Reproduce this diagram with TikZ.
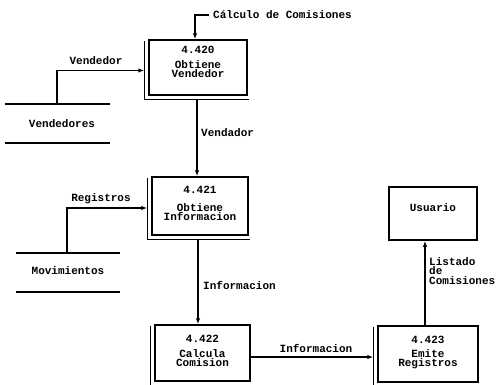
\documentclass[tikz,border=0pt]{standalone}
\usepackage{fontspec}
\newfontfamily\dfont{Liberation Mono}
\usetikzlibrary{arrows.meta,calc}
\begin{document}
\begin{tikzpicture}[x=1pt,y=-1pt,
  proc/.style={draw, line width=1.5pt, minimum width=#1, inner sep=0pt, rectangle},
  lbl/.style={font=\dfont\bfseries\fontsize{11}{9.5}\selectfont, inner sep=0pt, align=center},
  arr/.style={line width=1.1pt, -{Latex[length=6pt,width=4.5pt]}},
  bar/.style={line width=2.8pt},
  ln/.style={line width=1.1pt}]
\useasboundingbox (0,0) rectangle (499,384);
% process boxes (inner rectangles)
\node[proc=98pt, minimum height=55pt] (b420) at (198,67.5) {};
\node[proc=96pt, minimum height=58pt] (b421) at (200,206) {};
\node[proc=95pt, minimum height=56pt] (b422) at (202.5,353) {};
\node[proc=100pt, minimum height=56pt] (b423) at (428,354) {};
\node[proc=88pt, minimum height=53pt, line width=1.8pt] (usu) at (433,213.5) {};
% double lines left and bottom
\foreach \b in {b420,b421,b422,b423}{
  \draw[line width=1.2pt] ([xshift=-3.5pt,yshift=-2pt]\b.north west) -- ([xshift=-3.5pt,yshift=-3.5pt]\b.south west) -- ([xshift=1pt,yshift=-3.5pt]\b.south east);
}
% texts in boxes
\node[lbl] (n420) at ($(b420.north)+(0,11)$) {4.420};
\node[lbl] (t420) at ($(b420.north)+(0,30)$) {Obtiene\\Vendedor};
\node[lbl] (n421) at ($(b421.north)+(0,14)$) {4.421};
\node[lbl] (t421) at ($(b421.north)+(0,36)$) {Obtiene\\Informacion};
\node[lbl] (n422) at ($(b422.north)+(0,15)$) {4.422};
\node[lbl] (t422) at ($(b422.north)+(0,34)$) {Calcula\\Comision};
\node[lbl] (n423) at ($(b423.north)+(0,15)$) {4.423};
\node[lbl] (t423) at ($(b423.north)+(0,34)$) {Emite\\Registros};
\node[lbl] (tusu) at ($(usu.north)+(0,21)$) {Usuario};
% data stores
\draw[bar] (5,104) -- (110,104);
\draw[bar] (5,143) -- (110,143);
\node[lbl] (sVend) at (62,124) {Vendedores};
\draw[bar] (16,253) -- (120,253);
\draw[bar] (16,292) -- (120,292);
\node[lbl] (sMov) at (68,271) {Movimientos};
\coordinate (sv) at (57,103);
\coordinate (sm) at (67,252);
% top input
\coordinate (cin) at (209,15);
\node[lbl, anchor=west] (lcalc) at (213,15) {Cálculo de Comisiones};
\coordinate (c420) at ($(b420.north)+(-3,0)$);
\draw[arr] (cin) -- (cin -| c420) -- (c420);
% Vendedor flow
\coordinate (w420) at ($(b420.west)+(-4,3)$);
\draw[arr] (sv) |- (w420);
\node[lbl] (lvend) at (96,61) {Vendedor};
% Registros flow
\coordinate (w421) at ($(b421.west)+(-4,2)$);
\draw[arr] (sm) |- (w421);
\node[lbl] (lreg) at (101,199) {Registros};
% vertical flows
\coordinate (s420) at ($(b420.south)+(-1,3.5)$);
\draw[arr] (s420) -- (s420 |- b421.north);
\node[lbl, anchor=west] (lvdr) at (201,133) {Vendador};
\coordinate (s421) at ($(b421.south)+(-2,3.5)$);
\draw[arr] (s421) -- (s421 |- b422.north);
\node[lbl, anchor=west] (linf1) at (203,285) {Informacion};
% horizontal flow
\coordinate (e422) at ($(b422.east)+(0,4)$);
\coordinate (w423) at ($(b423.west)+(-4,0)$);
\draw[arr] (e422) -- (e422 -| w423);
\node[lbl] (linf2) at (316,348) {Informacion};
% to Usuario
\coordinate (n423c) at ($(b423.north)+(-3,0)$);
\draw[arr] (n423c) -- (n423c |- usu.south);
\node[lbl, anchor=north west, align=left] (llist) at (429,257) {Listado\\de\\Comisiones};
\end{tikzpicture}
\end{document}
